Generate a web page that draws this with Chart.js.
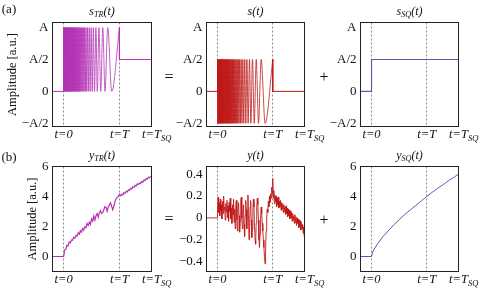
<!DOCTYPE html>
<html><head><meta charset="utf-8">
<script src="https://cdn.jsdelivr.net/npm/chart.js@4.4.1/dist/chart.umd.min.js"></script>
<style>
html,body{margin:0;padding:0;background:#fff;width:482px;height:288px;overflow:hidden;position:relative;}
canvas{position:absolute;z-index:1;}
.lbl{position:absolute;z-index:2;font-family:"Liberation Serif",serif;color:#111;white-space:nowrap;line-height:1;transform:translate(-50%,-50%);}
</style></head><body>
<script>
// ---------------- DATA ----------------
// time axis in units of T ; T_SQ = 1.575 T (right edge)
const xRange = [-0.2, 1.575];
const tMarks = [0, 1, 1.575];
const tMarkLabels = [["t=0",""],["t=T",""],["t=T","SQ"]];

const yTicksA = [-0.5, 0, 0.5, 1];
const yTickLabelsA = ["\u2212A/2","0","A/2","A"];
const yTicksB = [0, 2, 4, 6];
const yTickLabelsB = ["0","2","4","6"];
const yTicksY = [-0.4, -0.2, 0, 0.2, 0.4];
const yTickLabelsY = ["\u22120.4","\u22120.2","0","0.2","0.4"];

// chirp extrema times and levels
const chirpT = [
 0,0.004,0.008,0.012,0.016,0.020,0.024,0.028,0.032,0.036,
 0.040,0.044,0.048,0.052,0.056,0.060,0.064,0.068,0.072,0.076,
 0.080,0.084,0.088,0.092,0.096,0.100,0.105,0.110,0.115,0.120,
 0.125,0.130,0.135,0.140,0.145,0.150,0.155,0.160,0.165,0.170,
 0.175,0.180,0.185,0.190,0.195,0.200,0.206,0.212,0.219,0.225,
 0.232,0.238,0.245,0.251,0.258,0.265,0.272,0.279,0.286,0.293,
 0.300,0.309,0.318,0.327,0.336,0.346,0.356,0.366,0.377,0.388,
 0.400,0.413,0.427,0.442,0.458,0.475,0.493,0.512,0.532,0.554,
 0.578,0.604,0.633,0.665,0.701,0.742,0.790,0.862,1.000];
const sTR_chirp = [
 1,0,1,0,1,0,1,0,1,0, 1,0,1,0,1,0,1,0,1,0, 1,0,1,0,1,0,1,0,1,0, 1,0,1,0,1,0,1,0,1,0,
 1,0,1,0,1,0,1,0,1,0, 1,0,1,0,1,0,1,0,1,0, 1,0,1,0,1,0,1,0,1,0, 1,0,1,0,1,0,1,0,1,0,
 1,0,1,0,1,0,1,0,1];
const s_chirp = [
 0.5,-0.5,0.5,-0.5,0.5,-0.5,0.5,-0.5,0.5,-0.5, 0.5,-0.5,0.5,-0.5,0.5,-0.5,0.5,-0.5,0.5,-0.5,
 0.5,-0.5,0.5,-0.5,0.5,-0.5,0.5,-0.5,0.5,-0.5, 0.5,-0.5,0.5,-0.5,0.5,-0.5,0.5,-0.5,0.5,-0.5,
 0.5,-0.5,0.5,-0.5,0.5,-0.5,0.5,-0.5,0.5,-0.5, 0.5,-0.5,0.5,-0.5,0.5,-0.5,0.5,-0.5,0.5,-0.5,
 0.5,-0.5,0.5,-0.5,0.5,-0.5,0.5,-0.5,0.5,-0.5, 0.5,-0.5,0.5,-0.5,0.5,-0.5,0.5,-0.5,0.5,-0.5,
 0.5,-0.5,0.5,-0.5,0.5,-0.5,0.5,-0.5,0.5];
const sTR_headT = [-0.2, 0, 0];     const sTR_headV = [0, 0, 1];
const sTR_tailT = [1, 1, 1.575];    const sTR_tailV = [1, 0.5, 0.5];
const s_headT = [-0.2, 0, 0];       const s_headV = [0, 0, 0.5];
const s_tailT = [1, 1, 1.575];      const s_tailV = [0.5, 0, 0];
const sSQ_T = [-0.2, 0, 0, 1.575];  const sSQ_V = [0, 0, 0.5, 0.5];

// response y(t)
const yT = [-0.2, 0,
 0.00,0.01,0.02,0.03,0.04,0.05,0.06,0.07,0.08,0.09,
 0.10,0.11,0.12,0.13,0.14,0.15,0.16,0.17,0.18,0.19,
 0.20,0.21,0.22,0.23,0.24,0.25,0.26,0.27,0.28,0.29,
 0.30,0.31,0.32,0.33,0.34,0.35,0.36,0.37,0.38,0.39,
 0.40,0.41,0.42,0.43,0.44,0.45,0.46,0.47,0.48,0.49,
 0.50,0.51,0.52,0.53,0.54,0.55,0.56,0.57,0.58,0.59,
 0.60,0.61,0.62,0.63,0.64,0.65,0.66,0.67,0.68,0.69,
 0.70,0.71,0.72,0.73,0.74,0.75,0.76,0.77,0.78,0.79,
 0.80,0.81,0.82,0.83,0.84,0.85,0.86,0.87,0.88,0.89,
 0.90,0.91,0.92,0.93,0.94,0.95,0.96,0.97,0.98,0.99,
 1.00,1.01,1.02,1.03,1.04,1.05,1.06,1.07,1.08,1.09,
 1.10,1.11,1.12,1.13,1.14,1.15,1.16,1.17,1.18,1.19,
 1.20,1.21,1.22,1.23,1.24,1.25,1.26,1.27,1.28,1.29,
 1.30,1.31,1.32,1.33,1.34,1.35,1.36,1.37,1.38,1.39,
 1.40,1.41,1.42,1.43,1.44,1.45,1.46,1.47,1.48,1.49,
 1.50,1.51,1.52,1.53,1.54,1.55,1.56,1.57,1.575];
const yV = [0, 0,
 0.08,0.19,0.05,0.14,0.02,0.17,0.06,0.12,-0.01,0.15,
 0.04,0.2,0.07,0.1,-0.02,0.13,0.05,0.16,0.0,0.11,
 -0.03,0.14,0.06,0.18,-0.01,0.09,-0.05,0.12,0.03,0.17,
 -0.04,0.08,-0.1,0.1,0.16,-0.02,-0.12,0.05,0.14,0.02,
 -0.13,-0.03,0.15,0.19,0.0,-0.1,0.04,0.12,-0.06,-0.17,
 0.02,0.16,0.08,-0.1,0.05,0.21,0.03,-0.2,-0.08,0.1,
 0.16,-0.02,-0.18,-0.1,0.08,0.17,0.1,-0.08,-0.2,-0.24,
 -0.05,0.1,0.18,0.12,-0.02,-0.2,-0.27,-0.15,0.0,0.1,
 0.04,-0.05,-0.12,-0.2,-0.27,-0.35,-0.42,-0.3,-0.12,0.0,
 0.08,0.05,0.15,0.1,0.2,0.14,0.22,0.18,0.28,0.22,
 0.36,0.18,0.25,0.13,0.21,0.15,0.2,0.1,0.18,0.12,
 0.19,0.09,0.15,0.1,0.16,0.07,0.14,0.08,0.13,0.05,
 0.12,0.06,0.1,0.03,0.11,0.04,0.09,0.01,0.08,0.02,
 0.07,-0.01,0.06,0.0,0.05,-0.03,0.04,-0.02,0.02,-0.05,
 0.03,-0.04,0.01,-0.07,0.0,-0.05,-0.01,-0.09,-0.02,-0.08,
 -0.03,-0.11,-0.05,-0.1,-0.06,-0.14,-0.08,-0.17,-0.12];

// response y_TR(t)
const yTR_T = [-0.2,0,0.02,0.04,0.06,0.08,0.10,0.12,0.14,0.16,0.18,0.20,0.22,0.24,0.26,0.28,0.30,0.32,0.34,0.36,0.38,0.40,0.42,0.44,0.46,0.48,0.50,0.52,0.54,0.56,0.58,0.60,0.62,0.64,0.66,0.68,0.70,0.72,0.74,0.76,0.78,0.80,0.82,0.84,0.86,0.88,0.90,0.92,0.94,0.96,0.98,1.00,1.02,1.04,1.06,1.08,1.10,1.12,1.14,1.16,1.18,1.20,1.22,1.24,1.26,1.28,1.30,1.32,1.34,1.36,1.38,1.40,1.42,1.44,1.46,1.48,1.50,1.52,1.54,1.56,1.575];
const yTR_V = [0,0,0.45,0.5,0.75,0.72,0.98,0.92,1.1,1.08,1.28,1.22,1.4,1.36,1.58,1.48,1.72,1.62,1.86,1.76,1.98,1.92,2.2,2.06,2.28,2.14,2.5,2.36,2.7,2.42,2.72,2.86,2.62,2.92,3.06,2.86,2.92,3.12,3.32,3.28,3.02,3.3,3.45,3.58,3.35,3.12,3.35,3.65,3.85,3.95,4.0,4.15,4.05,4.15,4.1,4.25,4.2,4.34,4.3,4.44,4.4,4.54,4.5,4.64,4.6,4.74,4.7,4.84,4.8,4.9,4.86,5.0,4.96,5.1,5.06,5.2,5.16,5.28,5.25,5.35,5.35];

// response y_SQ(t)
const ySQ_T = [-0.2,0,0.02,0.05,0.1,0.2,0.3,0.4,0.5,0.6,0.7,0.8,0.9,1.0,1.1,1.2,1.3,1.4,1.5,1.575];
const ySQ_V = [0,0,0.3,0.5,0.8,1.3,1.7,2.1,2.45,2.8,3.1,3.4,3.7,4.0,4.28,4.55,4.8,5.07,5.3,5.5];

// ---------------- STYLE / LAYOUT ----------------
const FONT = '"Liberation Serif", "Times New Roman", serif';
const MAG = 'rgb(180,50,180)', RED = 'rgb(190,25,25)', BLUE = 'rgb(90,92,180)';
const colBoxes = [
  {cl:0,   cr:176, L:52.5,  R:151.5, yTitlePad:[5.5,25.5]},
  {cl:172, cr:330, L:206.5, R:304.5, yTitlePad:null},
  {cl:330, cr:482, L:360.5, R:458.5, yTitlePad:null}];
const rowBoxes = [{ct:0, cb:146, T:22.5, B:126.5}, {ct:146, cb:288, T:166.5, B:271.5}];

const pts = (ts, vs) => ts.map((t,i)=>({x:t, y:vs[i]}));

function drawRich(ctx, parts, cx, cy, size, centerMain){
  const [main, sub, after] = parts;
  const fMain = 'italic ' + size + 'px ' + FONT;
  const fSub = 'italic ' + (size*0.68).toFixed(1) + 'px ' + FONT;
  ctx.font = fMain; const wM = ctx.measureText(main).width; const wA = after ? ctx.measureText(after).width : 0;
  ctx.font = fSub; const wS = sub ? ctx.measureText(sub).width : 0;
  const total = wM + wS + wA;
  let x = centerMain ? cx - wM/2 : cx - total/2;
  ctx.textBaseline = 'middle'; ctx.textAlign = 'left';
  ctx.font = fMain; ctx.fillText(main, x, cy); x += wM;
  if (sub){ ctx.font = fSub; ctx.fillText(sub, x, cy + size*0.28); x += wS; }
  if (after){ ctx.font = fMain; ctx.fillText(after, x, cy); }
}

const richText = {
  id:'richText',
  afterDatasetsDraw(chart){
    const {ctx, chartArea:ca} = chart;
    ctx.save();
    ctx.strokeStyle = '#222'; ctx.lineWidth = 1;
    ctx.strokeRect(ca.left, ca.top, ca.right-ca.left, ca.bottom-ca.top);
    ctx.restore();
  },
  afterDraw(chart, args, opts){
    const {ctx, chartArea:ca} = chart; const x = chart.scales.x;
    ctx.save(); ctx.fillStyle = '#111';
    drawRich(ctx, opts.title, (ca.left+ca.right)/2, ca.top - 11, 12, false);
    tMarks.forEach((v,i)=> drawRich(ctx, tMarkLabels[i], x.getPixelForValue(v), ca.bottom + 8.5, 12.5, true));
    ctx.restore();
  }
};

function makeChart(ci, ri, datasets, yMin, yMax, yVals, yLabels, title){
  const c = colBoxes[ci], r = rowBoxes[ri];
  const cv = document.createElement('canvas');
  const w = c.cr - c.cl, h = r.cb - r.ct;
  cv.width = w; cv.height = h;
  cv.style.left = c.cl+'px'; cv.style.top = r.ct+'px';
  cv.style.width = w+'px'; cv.style.height = h+'px';
  document.body.appendChild(cv);
  const pad = c.yTitlePad ? c.yTitlePad[ri] : null;
  new Chart(cv, {
    type:'line',
    data:{datasets: datasets.map(d => Object.assign({pointRadius:0, borderWidth:1, fill:false, tension:0}, d))},
    options:{
      responsive:false, animation:false, devicePixelRatio:1,
      layout:{padding:{left:0, top:r.T - r.ct, right:c.cr - c.R, bottom:0}},
      plugins:{legend:{display:false}, tooltip:{enabled:false}, title:{display:false}, richText:{title}},
      scales:{
        x:{type:'linear', min:xRange[0], max:xRange[1],
           afterBuildTicks: s => { s.ticks = tMarks.map(v=>({value:v})); },
           afterFit: s => { s.height = r.cb - r.B; },
           ticks:{display:false},
           grid:{display:true, drawTicks:false, color:'#8c8c8c', lineWidth:1},
           border:{display:false, dash:[2,2]}},
        y:{type:'linear', min:yMin, max:yMax,
           afterBuildTicks: s => { s.ticks = yVals.map(v=>({value:v})); },
           afterFit: s => { s.width = c.L - c.cl; },
           ticks:{padding:4, color:'#111', font:{family:FONT, size:13}, callback:(v)=>yLabels[yVals.indexOf(v)]},
           grid:{display:false, drawTicks:false},
           border:{display:false},
           title: pad==null ? {display:false} : {display:true, text:'Amplitude [a.u.]', color:'#111', font:{family:FONT, size:12.5}, padding:{top:pad, bottom:0}}
        }
      }
    },
    plugins:[richText]
  });
}

// Row (a)
makeChart(0,0,[
  {data:pts(sTR_headT,sTR_headV), borderColor:MAG},
  {data:pts(chirpT,sTR_chirp), borderColor:MAG, borderWidth:0.8, cubicInterpolationMode:'monotone'},
  {data:pts(sTR_tailT,sTR_tailV), borderColor:MAG}
], -0.55, 1.08, yTicksA, yTickLabelsA, ["s","TR","(t)"]);
makeChart(1,0,[
  {data:pts(s_headT,s_headV), borderColor:RED},
  {data:pts(chirpT,s_chirp), borderColor:RED, borderWidth:0.8, cubicInterpolationMode:'monotone'},
  {data:pts(s_tailT,s_tailV), borderColor:RED}
], -0.55, 1.08, yTicksA, yTickLabelsA, ["s","","(t)"]);
makeChart(2,0,[
  {data:pts(sSQ_T,sSQ_V), borderColor:BLUE, borderWidth:1.2}
], -0.55, 1.08, yTicksA, yTickLabelsA, ["s","SQ","(t)"]);
// Row (b)
makeChart(0,1,[
  {data:pts(yTR_T,yTR_V), borderColor:MAG, borderWidth:1.2}
], -1, 6, yTicksB, yTickLabelsB, ["y","TR","(t)"]);
makeChart(1,1,[
  {data:pts(yT,yV), borderColor:RED, borderWidth:0.9}
], -0.49, 0.47, yTicksY, yTickLabelsY, ["y","","(t)"]);
makeChart(2,1,[
  {data:pts(ySQ_T,ySQ_V), borderColor:BLUE, borderWidth:1}
], -1, 6, yTicksB, yTickLabelsB, ["y","SQ","(t)"]);

// free text labels
const freeLabels = [["(a)",9,8,13],["(b)",9,156,13],["=",169,77,16],["+",324,77,16],["=",169,219,16],["+",324,220,16]];
freeLabels.forEach(([t,x,y,s])=>{ const d=document.createElement('div'); d.className='lbl'; d.textContent=t; d.style.left=x+'px'; d.style.top=y+'px'; d.style.fontSize=s+'px'; document.body.appendChild(d); });
</script>
</body></html>
